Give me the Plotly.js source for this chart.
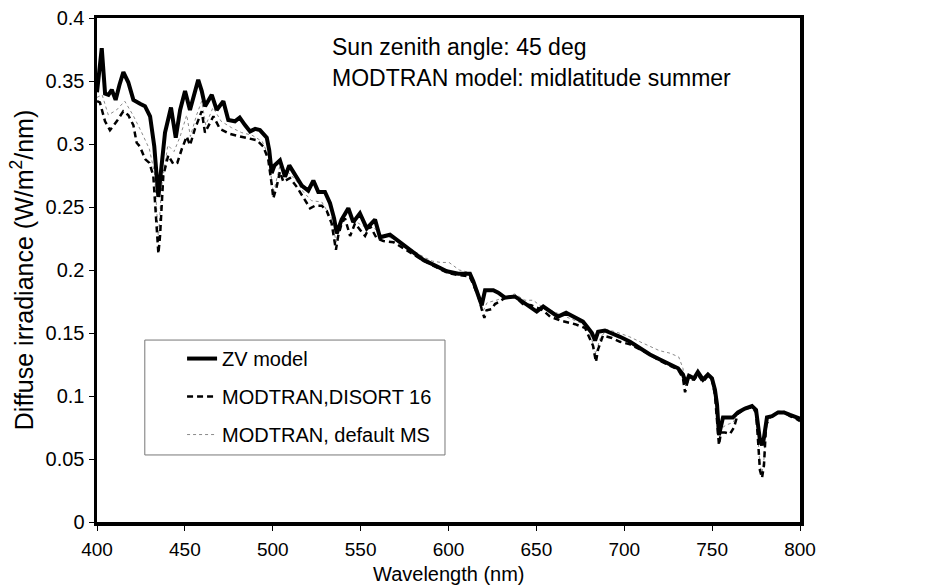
<!DOCTYPE html>
<html>
<head>
<meta charset="utf-8">
<script src="https://cdn.plot.ly/plotly-3.0.1.min.js"></script>
<style>html,body{margin:0;padding:0;background:#fff;}#chart{width:937px;height:586px;}</style>
</head>
<body>
<div id="chart"></div>
<script>
// ZV model (thick solid)
const zvWl = [
 400,401.1,402.7,404.6,406.5,408.4,410.6,412.8,415.0,417.8,
 420.7,424.5,427.3,430.2,432.6,434.9,436.8,438.7,442.1,444.8,
 447.3,450.1,452.9,455.2,457.6,459.6,461.5,465.3,468.1,471.9,
 474.7,478.5,481.2,484.2,487.1,490.0,492.7,496.6,498.0,499.4,
 501.0,504.1,507.0,509.4,513.6,516.5,520.2,523.1,525.9,529.7,
 532.6,534.9,536.4,539.2,543.0,545.8,549.6,553.5,558.2,561.0,
 566.7,572.4,576.2,580.9,585.7,593.3,599.0,605.6,612.2,614.1,
 617.0,618.9,620.8,625.5,628.3,632.1,637.8,642.6,647.3,650.2,
 653.9,657.8,662.3,666.9,672.0,676.5,679.4,681.6,683.4,685.1,
 689.0,693.0,697.6,703.3,709.0,714.6,720.3,726.0,730.6,733.4,
 735.1,736.8,739.7,741.9,744.8,747.6,749.9,751.6,752.8,753.9,
 755.0,756.2,759.0,761.8,764.7,768.7,772.7,775.0,776.1,777.2,
 778.4,779.5,781.2,784.1,787.5,790.9,794.3,797.7,800];
const zvVal = [
 0.341,0.359,0.376,0.340,0.339,0.343,0.335,0.347,0.357,0.349,
 0.335,0.332,0.330,0.322,0.298,0.258,0.287,0.309,0.329,0.305,
 0.327,0.342,0.327,0.339,0.351,0.342,0.330,0.339,0.327,0.334,
 0.319,0.318,0.321,0.315,0.310,0.312,0.311,0.305,0.295,0.277,
 0.283,0.287,0.274,0.283,0.273,0.267,0.263,0.271,0.262,0.262,
 0.253,0.241,0.229,0.240,0.249,0.238,0.245,0.233,0.240,0.226,
 0.228,0.222,0.218,0.213,0.208,0.203,0.199,0.197,0.197,0.191,
 0.179,0.172,0.184,0.184,0.182,0.178,0.179,0.174,0.170,0.167,
 0.171,0.167,0.163,0.166,0.162,0.159,0.154,0.150,0.144,0.151,
 0.152,0.150,0.147,0.143,0.138,0.133,0.129,0.125,0.122,0.117,
 0.110,0.116,0.114,0.119,0.113,0.117,0.114,0.105,0.093,0.069,
 0.077,0.083,0.083,0.083,0.087,0.090,0.092,0.089,0.077,0.065,
 0.061,0.067,0.083,0.084,0.087,0.087,0.085,0.083,0.082];

// MODTRAN, DISORT 16 (dashed)
const d16Wl = [
 400,401.65,404.57,407.37,411.23,414.96,417.77,420.69,422.56,424.42,
 427.34,429.8,432.02,434.0,434.93,435.87,437.74,440.54,443.46,445.68,
 448.25,451.05,452.92,455.72,459.58,461.44,466.23,469.97,475.69,481.41,
 487.02,490.87,494.61,497.41,499.4,500.33,502.2,504.07,506.05,509.79,
 513.64,517.38,521.23,524.04,527.89,530.69,533.49,535.95,537.23,539.22,
 541.09,544.01,546.81,549.62,552.53,555.34,559.19,562.93,568.77,574.61,
 580.45,586.29,593.29,599.13,604.97,611.98,614.31,617.0,618.87,620.39,
 621.67,624.59,626.46,629.27,632.19,637.79,642.35,647.02,653.8,657.8,
 663.4,672.0,677.7,680.5,682.2,683.9,685.1,687.9,693.0,697.6,
 703.3,709.0,714.6,720.3,726.0,730.6,733.4,734.6,736.3,739.7,
 741.9,744.8,747.6,749.9,751.6,752.8,753.9,755.0,757.3,760.2,
 762.4,764.7,768.7,772.7,775.0,776.1,777.2,778.4,779.5,780.7,
 782.9,787.5,790.9,794.3,797.7,800];
const d16Val = [
 0.334,0.333,0.318,0.311,0.318,0.326,0.323,0.315,0.301,0.298,
 0.288,0.285,0.275,0.238,0.213,0.227,0.275,0.291,0.284,0.285,
 0.296,0.306,0.299,0.312,0.326,0.309,0.322,0.312,0.308,0.306,
 0.304,0.303,0.298,0.288,0.268,0.257,0.266,0.278,0.270,0.273,
 0.266,0.258,0.249,0.251,0.251,0.247,0.237,0.216,0.227,0.237,
 0.241,0.227,0.237,0.232,0.227,0.235,0.225,0.223,0.222,0.217,
 0.212,0.207,0.202,0.198,0.196,0.195,0.188,0.179,0.169,0.162,
 0.168,0.169,0.173,0.175,0.178,0.179,0.173,0.172,0.168,0.163,
 0.160,0.157,0.154,0.146,0.140,0.127,0.137,0.148,0.146,0.143,
 0.141,0.137,0.133,0.128,0.124,0.121,0.114,0.103,0.113,0.113,
 0.117,0.111,0.116,0.113,0.101,0.081,0.061,0.071,0.071,0.070,
 0.075,0.086,0.090,0.091,0.087,0.065,0.041,0.035,0.045,0.077,
 0.083,0.087,0.087,0.084,0.082,0.080];

// MODTRAN, default MS (thin dotted)
const msWl = [
 400,402.93,406.44,411.11,415.78,420.46,425.13,429.8,432.71,434.93,
 436.8,440.31,443.81,447.31,451.05,453.15,456.66,459.58,461.91,466.0,
 470.67,476.51,482.35,488.19,494.03,497.53,500.33,503.95,509.21,513.88,
 517.38,522.06,527.89,533.49,536.06,539.22,543.07,546.58,551.25,557.09,
 562.93,568.77,574.61,581.62,586.29,590.96,595.63,600.3,606.14,611.98,
 616.65,619.57,621.91,627.16,633.0,637.67,643.51,648.18,652.85,657.8,
 663,670,677,680.5,683.9,686,690,697,703,709,
 715,720,726,731,733.4,734.8,736.5,740,742,745,
 748,750,751.6,752.8,754,755,758,762,764.7,768.7,
 772.7,775,776.1,777.2,778.4,779.5,780.7,783,787.5,791,
 794.3,800];
const msVal = [
 0.337,0.339,0.323,0.327,0.334,0.323,0.310,0.296,0.277,0.225,
 0.267,0.299,0.294,0.306,0.323,0.306,0.323,0.334,0.315,0.329,
 0.318,0.313,0.309,0.307,0.302,0.291,0.261,0.282,0.277,0.270,
 0.262,0.255,0.254,0.241,0.222,0.241,0.245,0.239,0.235,0.234,
 0.227,0.225,0.220,0.214,0.210,0.207,0.206,0.206,0.200,0.198,
 0.184,0.167,0.174,0.176,0.179,0.181,0.176,0.176,0.171,0.168,
 0.165,0.161,0.157,0.150,0.133,0.145,0.153,0.150,0.147,0.143,
 0.139,0.136,0.134,0.131,0.122,0.108,0.117,0.116,0.120,0.114,
 0.118,0.115,0.103,0.085,0.064,0.074,0.077,0.079,0.087,0.091,
 0.092,0.088,0.068,0.045,0.039,0.050,0.079,0.084,0.088,0.088,
 0.085,0.081];

const seriesNames = ['ZV model', 'MODTRAN,DISORT 16', 'MODTRAN, default MS'];
const xTicks = [400,450,500,550,600,650,700,750,800];
const yTicks = [0,0.05,0.1,0.15,0.2,0.25,0.3,0.35,0.4];
const yTickText = ['0','0.05','0.1','0.15','0.2','0.25','0.3','0.35','0.4'];
const noteLines = ['Sun zenith angle: 45 deg', 'MODTRAN model: midlatitude summer'];
const xTitle = 'Wavelength (nm)';
const yTitle = 'Diffuse irradiance (W/m<sup>2</sup>/nm)';

const FONT = 'Liberation Sans, Arial, sans-serif';

const traces = [
  {x: msWl, y: msVal, name: seriesNames[2], mode: 'lines', legendgroup: 'c', legendrank: 3,
   line: {color: '#8a8a8a', width: 1, dash: 'dot'}},
  {x: d16Wl, y: d16Val, name: seriesNames[1], mode: 'lines', legendgroup: 'b', legendrank: 2,
   line: {color: '#000', width: 2.5, dash: '6px,4px'}},
  {x: zvWl, y: zvVal, name: seriesNames[0], mode: 'lines', legendgroup: 'a', legendrank: 1,
   line: {color: '#000', width: 4}}
];

const layout = {
  width: 937, height: 586,
  margin: {l: 97, r: 137, t: 18, b: 64},
  paper_bgcolor: '#fff', plot_bgcolor: '#fff',
  font: {family: FONT, size: 20, color: '#000'},
  showlegend: true,
  legend: {
    x: 0.121, y: 0.363, xanchor: 'left', yanchor: 'top',
    bgcolor: 'rgba(0,0,0,0)', borderwidth: 0,
    traceorder: 'grouped', tracegroupgap: 9,
    font: {family: FONT, size: 20, color: '#000'}
  },
  xaxis: {
    range: [400, 800], tickvals: xTicks, ticktext: xTicks.map(String),
    ticks: 'outside', ticklen: 5, tickwidth: 1, tickcolor: '#000',
    showline: true, linecolor: '#000', linewidth: 3.5, mirror: true,
    showgrid: false, zeroline: false, ticklabelstandoff: 3,
    tickfont: {family: FONT, size: 19, color: '#000'}
  },
  yaxis: {
    range: [0, 0.4], tickvals: yTicks, ticktext: yTickText,
    ticks: 'outside', ticklen: 5, tickwidth: 1, tickcolor: '#000',
    showline: true, linecolor: '#000', linewidth: 3.5, mirror: true,
    showgrid: false, zeroline: false,
    tickfont: {family: FONT, size: 20, color: '#000'},
    title: {text: yTitle, font: {family: FONT, size: 25, color: '#000'}, standoff: 6}
  },
  shapes: [
    {type: 'rect', xref: 'paper', yref: 'paper', x0: 0.068, x1: 0.495, y0: 0.133, y1: 0.361,
     line: {color: '#777', width: 1}, fillcolor: 'rgba(0,0,0,0)'}
  ],
  annotations: [
    {xref: 'paper', yref: 'paper', x: 0.331, y: 0.942, xanchor: 'left', yanchor: 'middle', showarrow: false,
     text: noteLines[0], font: {family: FONT, size: 23, color: '#000'}},
    {xref: 'paper', yref: 'paper', x: 0.331, y: 0.881, xanchor: 'left', yanchor: 'middle', showarrow: false,
     text: noteLines[1], font: {family: FONT, size: 23, color: '#000'}},
    {xref: 'paper', yref: 'paper', x: 0.5, y: -0.103, xanchor: 'center', yanchor: 'middle', showarrow: false,
     text: xTitle, font: {family: FONT, size: 20, color: '#000'}}
  ]
};

Plotly.newPlot('chart', traces, layout, {displayModeBar: false, staticPlot: true});
</script>
</body>
</html>
